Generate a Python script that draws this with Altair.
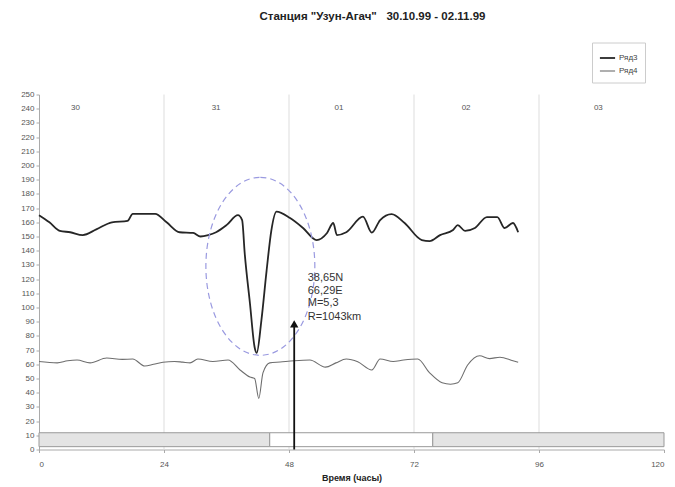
import altair as alt
import pandas as pd

# ---- data ----
series_names = ["Ряд3", "Ряд4"]

hours3 = [0, 2, 4, 6, 8.4, 11, 14, 17, 18, 20, 22.3, 24.5, 27, 29.6, 31, 32.5, 34, 36,
          38.2, 39, 39.5, 40.5, 41.4, 41.8, 42.7, 43.7, 44.6, 45.6, 48.2, 50.7, 53.3,
          55.3, 56.5, 57.2, 59, 62.2, 63.9, 65.5, 67.7, 70.2, 73.5, 75, 77, 79.5, 80.4,
          81.8, 83.7, 86, 88, 89.4, 91, 92]
vals3 = [165, 160, 154, 153, 151, 155, 160, 161, 166, 166, 166, 160, 153, 152.5, 150, 151,
         153, 158, 165, 161.5, 138, 103, 72, 68, 91, 126, 154, 167.5, 163, 156, 147.5,
         152.5, 159.5, 151, 153, 164, 152.7, 161.6, 165.8, 159.5, 147.5, 146.8, 151, 154.6,
         158, 154, 156, 163.7, 163.7, 156, 159.5, 153]

hours4 = [0, 3.5, 5.5, 7.3, 9.8, 13, 16, 18, 20.3, 22, 23.8, 26, 27.6, 29, 30.5, 33.4,
          36.3, 38.6, 40.5, 41.4, 42.2, 43, 44.3, 46.3, 49, 52, 55, 57, 59, 61.2, 63.9,
          65.5, 68, 70, 72.7, 75, 77.4, 79, 80.4, 82.3, 84.6, 86.5, 88.5, 91, 92]
vals4 = [62, 61, 62.5, 63, 61, 64.4, 63.5, 63.7, 58.8, 60, 61.4, 62, 61.5, 61, 63.7, 62,
         63, 56, 51, 50, 36, 54, 61, 61.6, 62.5, 63, 58, 61, 63.7, 61.8, 56,
         63.7, 62, 63, 63.7, 54, 47, 46, 47, 59.5, 66, 64, 65, 62.5, 61.5]

x_ticks = [0, 24, 48, 72, 96, 120]
y_ticks = list(range(0, 251, 10))

day_bounds = [24, 48, 72, 96]
day_labels = ["30", "31", "01", "02", "03"]
day_label_hours = [7, 34, 57.6, 82, 107.4]
day_label_level = 240.5

bar_start = [0, 44.3, 75.6]
bar_end = [44.3, 75.6, 120]
bar_kind = ["shaded", "open", "shaded"]
bar_low = 2
bar_high = 11.8

event_lines = ["38,65N", "66,29E", "M=5,3", "R=1043km"]
event_text_hour = 51.6
event_text_levels = [121, 111.6, 103, 93]

arrow_hour = [49]
arrow_base = [0]
arrow_shaft_top = [87]
arrow_head_level = [88.5]

ellipse_hour = [42.5]
ellipse_level = [129]

title_text = 'Станция "Узун-Агач"\u00a0\u00a0 30.10.99 - 02.11.99'

# ---- tables ----
lines_df = pd.concat([
    pd.DataFrame({"hour": hours3, "value": vals3, "series": series_names[0]}),
    pd.DataFrame({"hour": hours4, "value": vals4, "series": series_names[1]}),
])
bounds_df = pd.DataFrame({"hour": day_bounds, "y0": 0, "y1": 250})
days_df = pd.DataFrame({"hour": day_label_hours, "label": day_labels, "value": day_label_level})
bars_df = pd.DataFrame({"start": bar_start, "end": bar_end, "kind": bar_kind,
                        "lo": bar_low, "hi": bar_high})
event_df = pd.DataFrame({"hour": event_text_hour, "value": event_text_levels, "label": event_lines})
arrow_df = pd.DataFrame({"hour": arrow_hour, "y0": arrow_base, "y1": arrow_shaft_top,
                         "head": arrow_head_level})
ell_df = pd.DataFrame({"hour": ellipse_hour, "value": ellipse_level})

FONT = "Liberation Sans"
xs = alt.Scale(domain=[0, 120], nice=False)
ys = alt.Scale(domain=[0, 250], nice=False)

x_axis = alt.Axis(values=x_ticks, title="Время (часы)", grid=False, labelFontSize=8,
                  labelColor="#555", tickColor="#aaa", domainColor="#aaa", tickSize=3,
                  labelPadding=8, titleFontSize=9, titleFontWeight="bold", titleColor="#222",
                  titlePadding=5, labelFont=FONT, titleFont=FONT)
y_axis = alt.Axis(values=y_ticks, title=None, grid=False, labelFontSize=8, labelColor="#555",
                  tickColor="#aaa", domainColor="#aaa", tickSize=3, labelPadding=2,
                  labelFont=FONT)


def X(f):
    return alt.X(f"{f}:Q", scale=xs, axis=x_axis)


def Y(f):
    return alt.Y(f"{f}:Q", scale=ys, axis=y_axis)


legend = alt.Legend(title=None, orient="none", legendX=553, legendY=-52,
                    strokeColor="#cccccc", padding=7, labelFontSize=8,
                    labelColor="#444", labelFont=FONT, symbolType="stroke",
                    symbolSize=230, labelOffset=3, rowPadding=0)

grid = alt.Chart(bounds_df).mark_rule(color="#dddddd", strokeWidth=1).encode(
    x=X("hour"), y=Y("y0"), y2="y1")

days = alt.Chart(days_df).mark_text(fontSize=8, color="#555", font=FONT).encode(
    x=X("hour"), y=Y("value"), text="label:N")

bars = alt.Chart(bars_df).mark_rect(stroke="#999999", strokeWidth=1).encode(
    x=X("start"), x2="end", y=Y("lo"), y2="hi",
    fill=alt.Fill("kind:N", scale=alt.Scale(domain=["shaded", "open"],
                                            range=["#e4e4e4", "#ffffff"]), legend=None))

lines = alt.Chart(lines_df).mark_line(interpolate="monotone").encode(
    x=X("hour"), y=Y("value"),
    color=alt.Color("series:N", scale=alt.Scale(domain=series_names, range=["#262626", "#6e6e6e"]),
                    legend=legend),
    strokeWidth=alt.StrokeWidth("series:N", scale=alt.Scale(domain=series_names, range=[1.8, 1.1]),
                                legend=legend),
    detail="series:N")

ellipse_path = ("M0,-1 C0.338,-1 0.612,-0.5523 0.612,0 C0.612,0.5523 0.338,1 0,1 "
                "C-0.338,1 -0.612,0.5523 -0.612,0 C-0.612,-0.5523 -0.338,-1 0,-1 Z")
ellipse = alt.Chart(ell_df).mark_point(shape=ellipse_path, filled=False, size=31684,
                                       stroke="#9a9ae0", strokeWidth=1.2,
                                       strokeDash=[6, 4], opacity=1).encode(
    x=X("hour"), y=Y("value"))

arrow_shaft = alt.Chart(arrow_df).mark_rule(color="#111", strokeWidth=1.8).encode(
    x=X("hour"), y=Y("y0"), y2="y1")
arrow_head = alt.Chart(arrow_df).mark_point(shape="triangle-up", filled=True, size=70,
                                            color="#111", opacity=1).encode(
    x=X("hour"), y=Y("head"))

event = alt.Chart(event_df).mark_text(align="left", fontSize=11, color="#333", font=FONT).encode(
    x=X("hour"), y=Y("value"), text="label:N")

chart = alt.layer(grid, days, bars, lines, ellipse, arrow_shaft, arrow_head, event).properties(
    width=625, height=355,
    padding={"left": 39, "top": 94.5, "right": 11, "bottom": 37.5},
    autosize=alt.AutoSizeParams(type="none"),
    title=alt.Title(title_text, fontSize=11.5, fontWeight="bold", font=FONT, color="#222",
                    anchor="middle", frame="group", dx=21, offset=20),
).configure(font=FONT).configure_view(stroke=None)

chart.save("out.html", embed_options={"renderer": "svg", "actions": False})
